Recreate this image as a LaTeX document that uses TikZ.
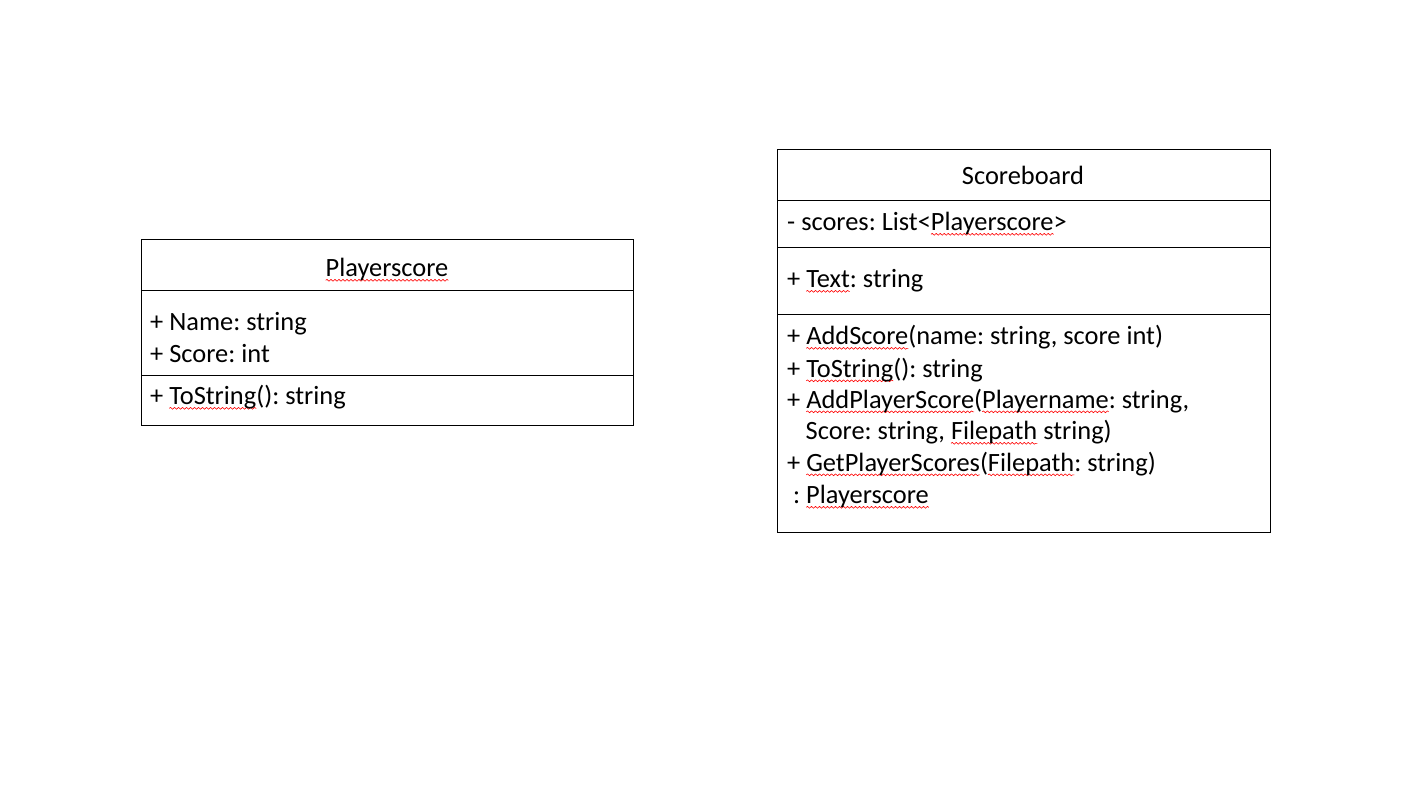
\documentclass[tikz,border=0pt]{standalone}
\usepackage{fontspec}
\setmainfont{Carlito}
\frenchspacing
\usetikzlibrary{decorations.pathmorphing}
\newsavebox\spellbox
% red spell-check wave under a word
\newcommand\spell[1]{\sbox\spellbox{#1}%
  \tikz[overlay,x=1pt,y=1pt]\draw[red,line width=0.6pt,decorate,
    decoration={snake,amplitude=0.9pt,segment length=4pt}] (0pt,-3.8pt) -- (\wd\spellbox,-3.8pt);%
  #1}

\begin{document}
\begin{tikzpicture}[x=1pt,y=-1pt,
    classbox/.style={draw,line width=1pt},
    member/.style={anchor=base west,inner sep=0pt,font=\fontsize{26.4}{32}\selectfont},
    classname/.style={anchor=base,inner sep=0pt,font=\fontsize{26.4}{32}\selectfont}]
    \useasboundingbox[fill=white] (0,0) rectangle (1406,790);

    % Playerscore class
    \draw[classbox] (141,239) rectangle (633,425);
    \draw[classbox] (141,290) -- (633,290);
    \draw[classbox] (141,375) -- (633,375);
    \node[classname] (psName) at (387,276.5) {\spell{Playerscore}};
    \foreach \i/\y/\t in {1/330/{+ Name: string},2/362/{+ Score: int},3/404.5/{+ \spell{ToString}(): string}} {
      \node[member] (psm\i) at (150,\y) {\t};
    }

    % Scoreboard class
    \draw[classbox] (777,149) rectangle (1270,532);
    \foreach \y in {200.5,247.5,314} {
      \draw[classbox] (777,\y) -- (1270,\y);
    }
    \node[classname] (sbName) at (1023,184) {Scoreboard};
    \node[member] (sbAttr) at (787,230.5) {- scores: List<\spell{Playerscore}>};
    \node[member] (sbProp) at (787,287.5) {+ \spell{Text}: string};
    \foreach \i/\x/\y/\t in {1/787/344.5/{+ \spell{AddScore}(name: string, score int)},
        2/787/377/{+ \spell{ToString}(): string},
        3/787/408/{+ \spell{AddPlayerScore}(\spell{Playername}: string,},
        4/805.5/439.5/{Score: string, \spell{Filepath} string)},
        5/787/471/{+ \spell{GetPlayerScores}(\spell{Filepath}: string)},
        6/793/503.5/{: \spell{Playerscore}}} {
      \node[member] (sbm\i) at (\x,\y) {\t};
    }
\end{tikzpicture}
\end{document}
